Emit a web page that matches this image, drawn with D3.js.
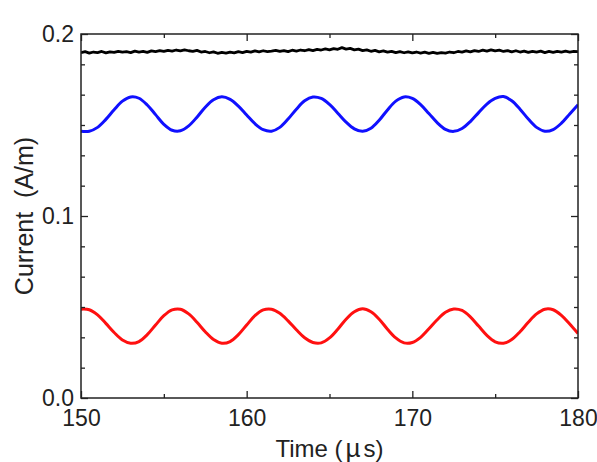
<!DOCTYPE html>
<html><head><meta charset="utf-8">
<script src="https://cdn.jsdelivr.net/npm/d3@7"></script>
<style>
body{margin:0;background:#fff;}
text{font-family:"Liberation Sans",Arial,sans-serif;fill:#222;}
</style></head>
<body><svg id="c" width="597" height="462"></svg>
<script>
// time axis of the sampled series
const tStart = 150, tStep = 0.5, tStepBlack = 0.25;
const xTicks = [150, 160, 170, 180];
const xMinor = [155, 165, 175];
const yTicks = [0.0, 0.1, 0.2];
const yTickLabels = ["0.0", "0.1", "0.2"];
const xTitleParts = ["Time (", "\u00b5", "s)"];
const yTitle = "Current\u00a0\u00a0(A/m)";

const blackValues = [
0.1897,0.1903,0.1895,0.1901,0.1898,0.1904,0.1896,0.1902,0.1899,0.1905,0.1900,0.1903,
0.1898,0.1906,0.1901,0.1904,0.1899,0.1907,0.1903,0.1909,0.1904,0.1910,0.1906,0.1912,
0.1907,0.1913,0.1908,0.1905,0.1910,0.1901,0.1904,0.1897,0.1902,0.1894,0.1899,0.1895,
0.1900,0.1896,0.1903,0.1898,0.1905,0.1900,0.1907,0.1902,0.1908,0.1903,0.1906,0.1910,
0.1904,0.1909,0.1903,0.1911,0.1906,0.1912,0.1908,0.1914,0.1909,0.1916,0.1912,0.1918,
0.1913,0.1920,0.1916,0.1925,0.1917,0.1921,0.1913,0.1917,0.1909,0.1913,0.1905,0.1910,
0.1902,0.1907,0.1900,0.1905,0.1898,0.1903,0.1897,0.1902,0.1896,0.1901,0.1895,0.1900,
0.1894,0.1899,0.1893,0.1898,0.1895,0.1901,0.1897,0.1904,0.1900,0.1907,0.1902,0.1909,
0.1904,0.1911,0.1906,0.1913,0.1907,0.1911,0.1904,0.1909,0.1902,0.1908,0.1901,0.1906,
0.1899,0.1905,0.1900,0.1906,0.1898,0.1904,0.1899,0.1905,0.1900,0.1906,0.1901,0.1904,
0.1903];

const blueValues = [
0.1466,0.1466,0.1487,0.1531,0.1584,0.1631,0.1654,0.1647,0.1610,0.1557,
0.1504,0.1471,0.1468,0.1495,0.1543,0.1598,0.1639,0.1655,0.1641,0.1604,
0.1555,0.1507,0.1474,0.1466,0.1487,0.1533,0.1587,0.1633,0.1654,0.1646,
0.1613,0.1565,0.1516,0.1479,0.1465,0.1482,0.1526,0.1583,0.1631,0.1654,
0.1646,0.1612,0.1563,0.1513,0.1476,0.1465,0.1481,0.1519,0.1568,0.1615,
0.1646,0.1656,0.1633,0.1587,0.1533,0.1487,0.1466,0.1475,0.1510,0.1561,
0.1611];

const redValues = [
0.0488,0.0485,0.0457,0.0410,0.0360,0.0319,0.0301,0.0310,0.0348,0.0401,
0.0452,0.0484,0.0488,0.0462,0.0416,0.0364,0.0321,0.0301,0.0310,0.0348,
0.0401,0.0452,0.0484,0.0488,0.0466,0.0424,0.0375,0.0331,0.0305,0.0303,
0.0330,0.0378,0.0433,0.0474,0.0490,0.0474,0.0433,0.0378,0.0330,0.0303,
0.0305,0.0333,0.0380,0.0430,0.0471,0.0489,0.0481,0.0446,0.0395,0.0344,
0.0309,0.0301,0.0321,0.0364,0.0416,0.0462,0.0488,0.0485,0.0454,0.0406,
0.0354];

const L = 81, R = 578, T = 34, B = 398;
const svg = d3.select("#c");
const x = d3.scaleLinear().domain([150, 180]).range([L, R]);
const y = d3.scaleLinear().domain([0, 0.2]).range([B, T]);
const yMinor = d3.range(1, 12).map(i => i * 0.2 / 12).filter(v => Math.abs(v - 0.1) > 1e-9);

svg.append("clipPath").attr("id", "clip").append("rect")
  .attr("x", L).attr("y", T).attr("width", R - L).attr("height", B - T);

function drawSeries(vals, step, color, w, curve) {
  const pts = vals.map((v, i) => [tStart + i * step, v]);
  svg.append("path").attr("clip-path", "url(#clip)")
    .attr("d", d3.line().x(d => x(d[0])).y(d => y(d[1])).curve(curve)(pts))
    .attr("fill", "none").attr("stroke", color).attr("stroke-width", w)
    .attr("stroke-linejoin", "round");
}
drawSeries(blackValues, tStepBlack, "#000", 2.8, d3.curveLinear);
drawSeries(blueValues, tStep, "#1010ff", 3, d3.curveCatmullRom);
drawSeries(redValues, tStep, "#ff1010", 3, d3.curveCatmullRom);

function axis(gen, tx, ty) {
  const g = svg.append("g").attr("transform", `translate(${tx},${ty})`).call(gen);
  g.select(".domain").remove();
  g.selectAll("line").attr("stroke", "#222").attr("stroke-width", 1.3);
  g.selectAll("text").attr("font-size", 23).attr("fill", "#222")
    .attr("font-family", "'Liberation Sans',Arial,sans-serif");
  return g;
}
// bottom
axis(d3.axisBottom(x).tickValues(xTicks).tickFormat(d3.format("d")).tickSize(-7).tickPadding(12), 0, B);
axis(d3.axisBottom(x).tickValues(xMinor).tickFormat("").tickSize(-4), 0, B);
// top
axis(d3.axisTop(x).tickValues(xTicks).tickFormat("").tickSize(-7), 0, T);
axis(d3.axisTop(x).tickValues(xMinor).tickFormat("").tickSize(-4), 0, T);
// left
axis(d3.axisLeft(y).tickValues(yTicks).tickFormat((d, i) => yTickLabels[i]).tickSize(-7).tickPadding(7), L, 0);
axis(d3.axisLeft(y).tickValues(yMinor).tickFormat("").tickSize(-4), L, 0);
// right
axis(d3.axisRight(y).tickValues(yTicks).tickFormat("").tickSize(-7), R, 0);
axis(d3.axisRight(y).tickValues(yMinor).tickFormat("").tickSize(-4), R, 0);

svg.append("rect").attr("x", L).attr("y", T).attr("width", R - L).attr("height", B - T)
  .attr("fill", "none").attr("stroke", "#222").attr("stroke-width", 1.5);

const xt = svg.append("text").attr("x", (L + R) / 2).attr("y", 457).attr("text-anchor", "middle")
  .attr("font-size", 24);
xt.append("tspan").text(xTitleParts[0]);
xt.append("tspan").attr("dx", 3).attr("font-size", 26).text(xTitleParts[1]);
xt.append("tspan").attr("dx", 3).text(xTitleParts[2]);
svg.append("text").attr("transform", `translate(33,${(T + B) / 2}) rotate(-90)`)
  .attr("text-anchor", "middle").attr("font-size", 25).text(yTitle);
</script></body></html>
